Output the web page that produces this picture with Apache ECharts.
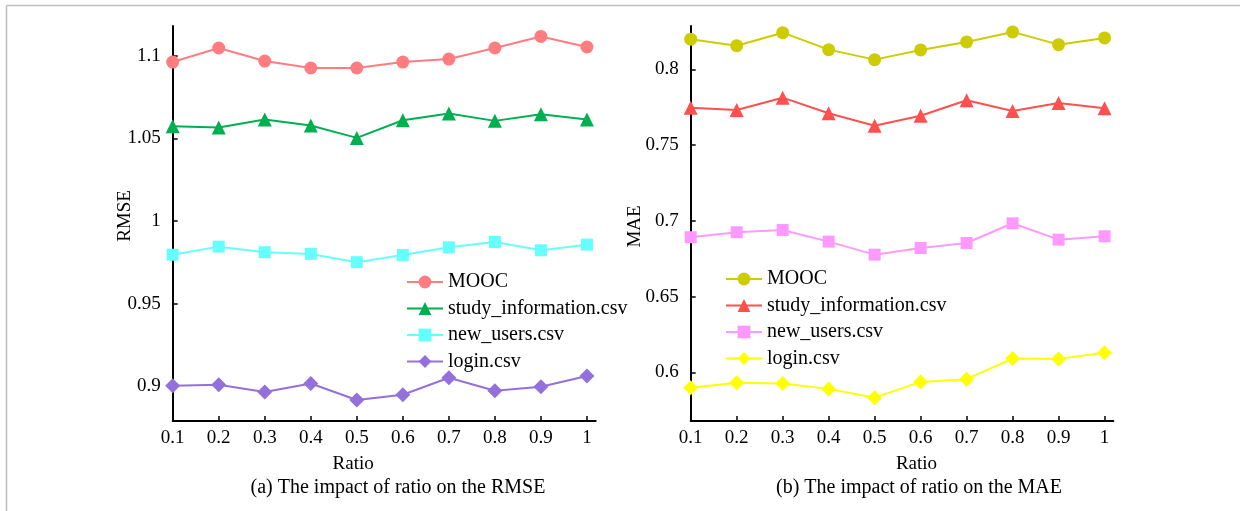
<!DOCTYPE html>
<html>
<head>
<meta charset="utf-8">
<script src="https://cdn.jsdelivr.net/npm/echarts@6/dist/echarts.min.js"></script>
<style>
html,body{margin:0;padding:0;background:#fff;}
#chart{width:1240px;height:511px;}
</style>
</head>
<body>
<div id="chart"></div>
<script>
// ---- data ----
const ratios = [0.1, 0.2, 0.3, 0.4, 0.5, 0.6, 0.7, 0.8, 0.9, 1];
const xTickValues = [0.1, 0.2, 0.3, 0.4, 0.5, 0.6, 0.7, 0.8, 0.9, 1];
const rmseTicks = [0.9, 0.95, 1, 1.05, 1.1];
const maeTicks = [0.6, 0.65, 0.7, 0.75, 0.8];
const seriesNames = ['MOOC', 'study_information.csv', 'new_users.csv', 'login.csv'];

// (a) RMSE
const rmseMOOC  = [1.0962, 1.1047, 1.0968, 1.0926, 1.0926, 1.0962, 1.0980, 1.1047, 1.1117, 1.1053];
const rmseStudy = [1.0574, 1.0566, 1.0614, 1.0578, 1.0503, 1.0610, 1.0650, 1.0606, 1.0646, 1.0614];
const rmseNew   = [0.9796, 0.9845, 0.9811, 0.9801, 0.9751, 0.9795, 0.9841, 0.9873, 0.9823, 0.9857];
const rmseLogin = [0.9003, 0.9010, 0.8965, 0.9017, 0.8917, 0.8949, 0.9052, 0.8973, 0.8997, 0.9062];

// (b) MAE
const maeMOOC  = [0.8199, 0.8156, 0.8242, 0.8130, 0.8064, 0.8128, 0.8181, 0.8247, 0.8163, 0.8207];
const maeStudy = [0.7747, 0.7732, 0.7813, 0.7710, 0.7628, 0.7694, 0.7796, 0.7725, 0.7778, 0.7743];
const maeNew   = [0.6892, 0.6925, 0.6940, 0.6863, 0.6777, 0.6821, 0.6854, 0.6984, 0.6876, 0.6898];
const maeLogin = [0.5899, 0.5932, 0.5926, 0.5891, 0.5833, 0.5937, 0.5955, 0.6091, 0.6089, 0.6130];

// ---- styling ----
const FONT = 'Liberation Serif, Times New Roman, serif';
const colorsA = ['#FF7C80', '#00B050', '#66FFFF', '#9370DB'];
const colorsB = ['#CCCC00', '#FF5050', '#FF99FF', '#FFFF00'];
const symbols = ['circle', 'triangle', 'rect', 'diamond'];
const symbolSizes = [13, 14, 12, 15];

function pairs(vals) { return ratios.map((r, i) => [r, vals[i]]); }

function makeSeries(valsList, colors, idx, tag) {
  return valsList.map((vals, k) => ({
    name: seriesNames[k] + ' (' + tag + ')',
    type: 'line',
    xAxisIndex: idx,
    yAxisIndex: idx,
    data: pairs(vals),
    symbol: symbols[k],
    symbolSize: symbolSizes[k],
    showAllSymbol: true,
    color: colors[k],
    lineStyle: { width: 2, color: colors[k] },
    itemStyle: { color: colors[k] },
    emphasis: { disabled: true },
    animation: false
  }));
}

function xAxis(gridIndex, namePad) {
  return {
    type: 'value', gridIndex: gridIndex,
    min: 0.1, max: 1.019,
    name: 'Ratio', nameLocation: 'middle', nameGap: 34, nameMoveOverlap: false,
    nameTextStyle: { fontFamily: FONT, fontSize: 19, color: '#000', padding: namePad },
    axisLine: { show: true, onZero: false, lineStyle: { color: '#000', width: 2 } },
    axisTick: { show: true, inside: true, length: 5, customValues: xTickValues, lineStyle: { color: '#000', width: 1.5 } },
    axisLabel: { customValues: xTickValues, margin: 8, fontFamily: FONT, fontSize: 19, color: '#000' },
    splitLine: { show: false }
  };
}
function yAxis(gridIndex, min, max, ticks, name, gap, namePad) {
  return {
    type: 'value', gridIndex: gridIndex,
    min: min, max: max,
    name: name, nameLocation: 'middle', nameGap: gap, nameMoveOverlap: false,
    nameTextStyle: { fontFamily: FONT, fontSize: 19, color: '#000', padding: namePad },
    axisLine: { show: true, onZero: false, lineStyle: { color: '#000', width: 2 } },
    axisTick: { show: true, inside: true, length: 5, customValues: ticks, lineStyle: { color: '#000', width: 1.5 } },
    axisLabel: { customValues: ticks, margin: 12, fontFamily: FONT, fontSize: 19, color: '#000' },
    splitLine: { show: false }
  };
}
function legend(left, top, tag) {
  return {
    orient: 'vertical', left: left, top: top, padding: 0,
    itemWidth: 36, itemHeight: 16, itemGap: 6.5,
    data: seriesNames.map(n => n + ' (' + tag + ')'),
    formatter: n => n.replace(/ \([ab]\)$/, ''),
    textStyle: { fontFamily: FONT, fontSize: 20, color: '#000', lineHeight: 20 },
    selectedMode: false
  };
}

const chart = echarts.init(document.getElementById('chart'), null, { renderer: 'canvas' });
chart.setOption({
  backgroundColor: '#fff',
  animation: false,
  grid: [
    { left: 172.7, top: 26, width: 423, height: 395, containLabel: false },
    { left: 690.7, top: 26, width: 422.6, height: 395, containLabel: false }
  ],
  xAxis: [ xAxis(0, [0, 62, 0, 0]), xAxis(1, [0, 0, 0, 29]) ],
  yAxis: [
    yAxis(0, 0.879, 1.118, rmseTicks, 'RMSE', 38, [0, 0, 0, 15]),
    yAxis(1, 0.5679, 0.8286, maeTicks, 'MAE', 46, [0, 6, 0, 0])
  ],
  legend: [ legend(406, 272, 'a'), legend(725, 269, 'b') ],
  series: [].concat(
    makeSeries([rmseMOOC, rmseStudy, rmseNew, rmseLogin], colorsA, 0, 'a'),
    makeSeries([maeMOOC, maeStudy, maeNew, maeLogin], colorsB, 1, 'b')
  ),
  graphic: [
    { type: 'line', shape: { x1: 6.5, y1: 5.5, x2: 1240, y2: 5.5 }, style: { stroke: '#bdbdbd', lineWidth: 1.5 }, silent: true },
    { type: 'line', shape: { x1: 6.5, y1: 5.5, x2: 6.5, y2: 511 }, style: { stroke: '#bdbdbd', lineWidth: 1.5 }, silent: true },
    { type: 'text', x: 398, y: 488, style: { text: '(a) The impact of ratio on the RMSE', fontFamily: FONT, fontSize: 20, fill: '#000', textAlign: 'center', textVerticalAlign: 'middle' }, silent: true },
    { type: 'text', x: 919, y: 488, style: { text: '(b) The impact of ratio on the MAE', fontFamily: FONT, fontSize: 20, fill: '#000', textAlign: 'center', textVerticalAlign: 'middle' }, silent: true }
  ]
});
</script>
</body>
</html>
